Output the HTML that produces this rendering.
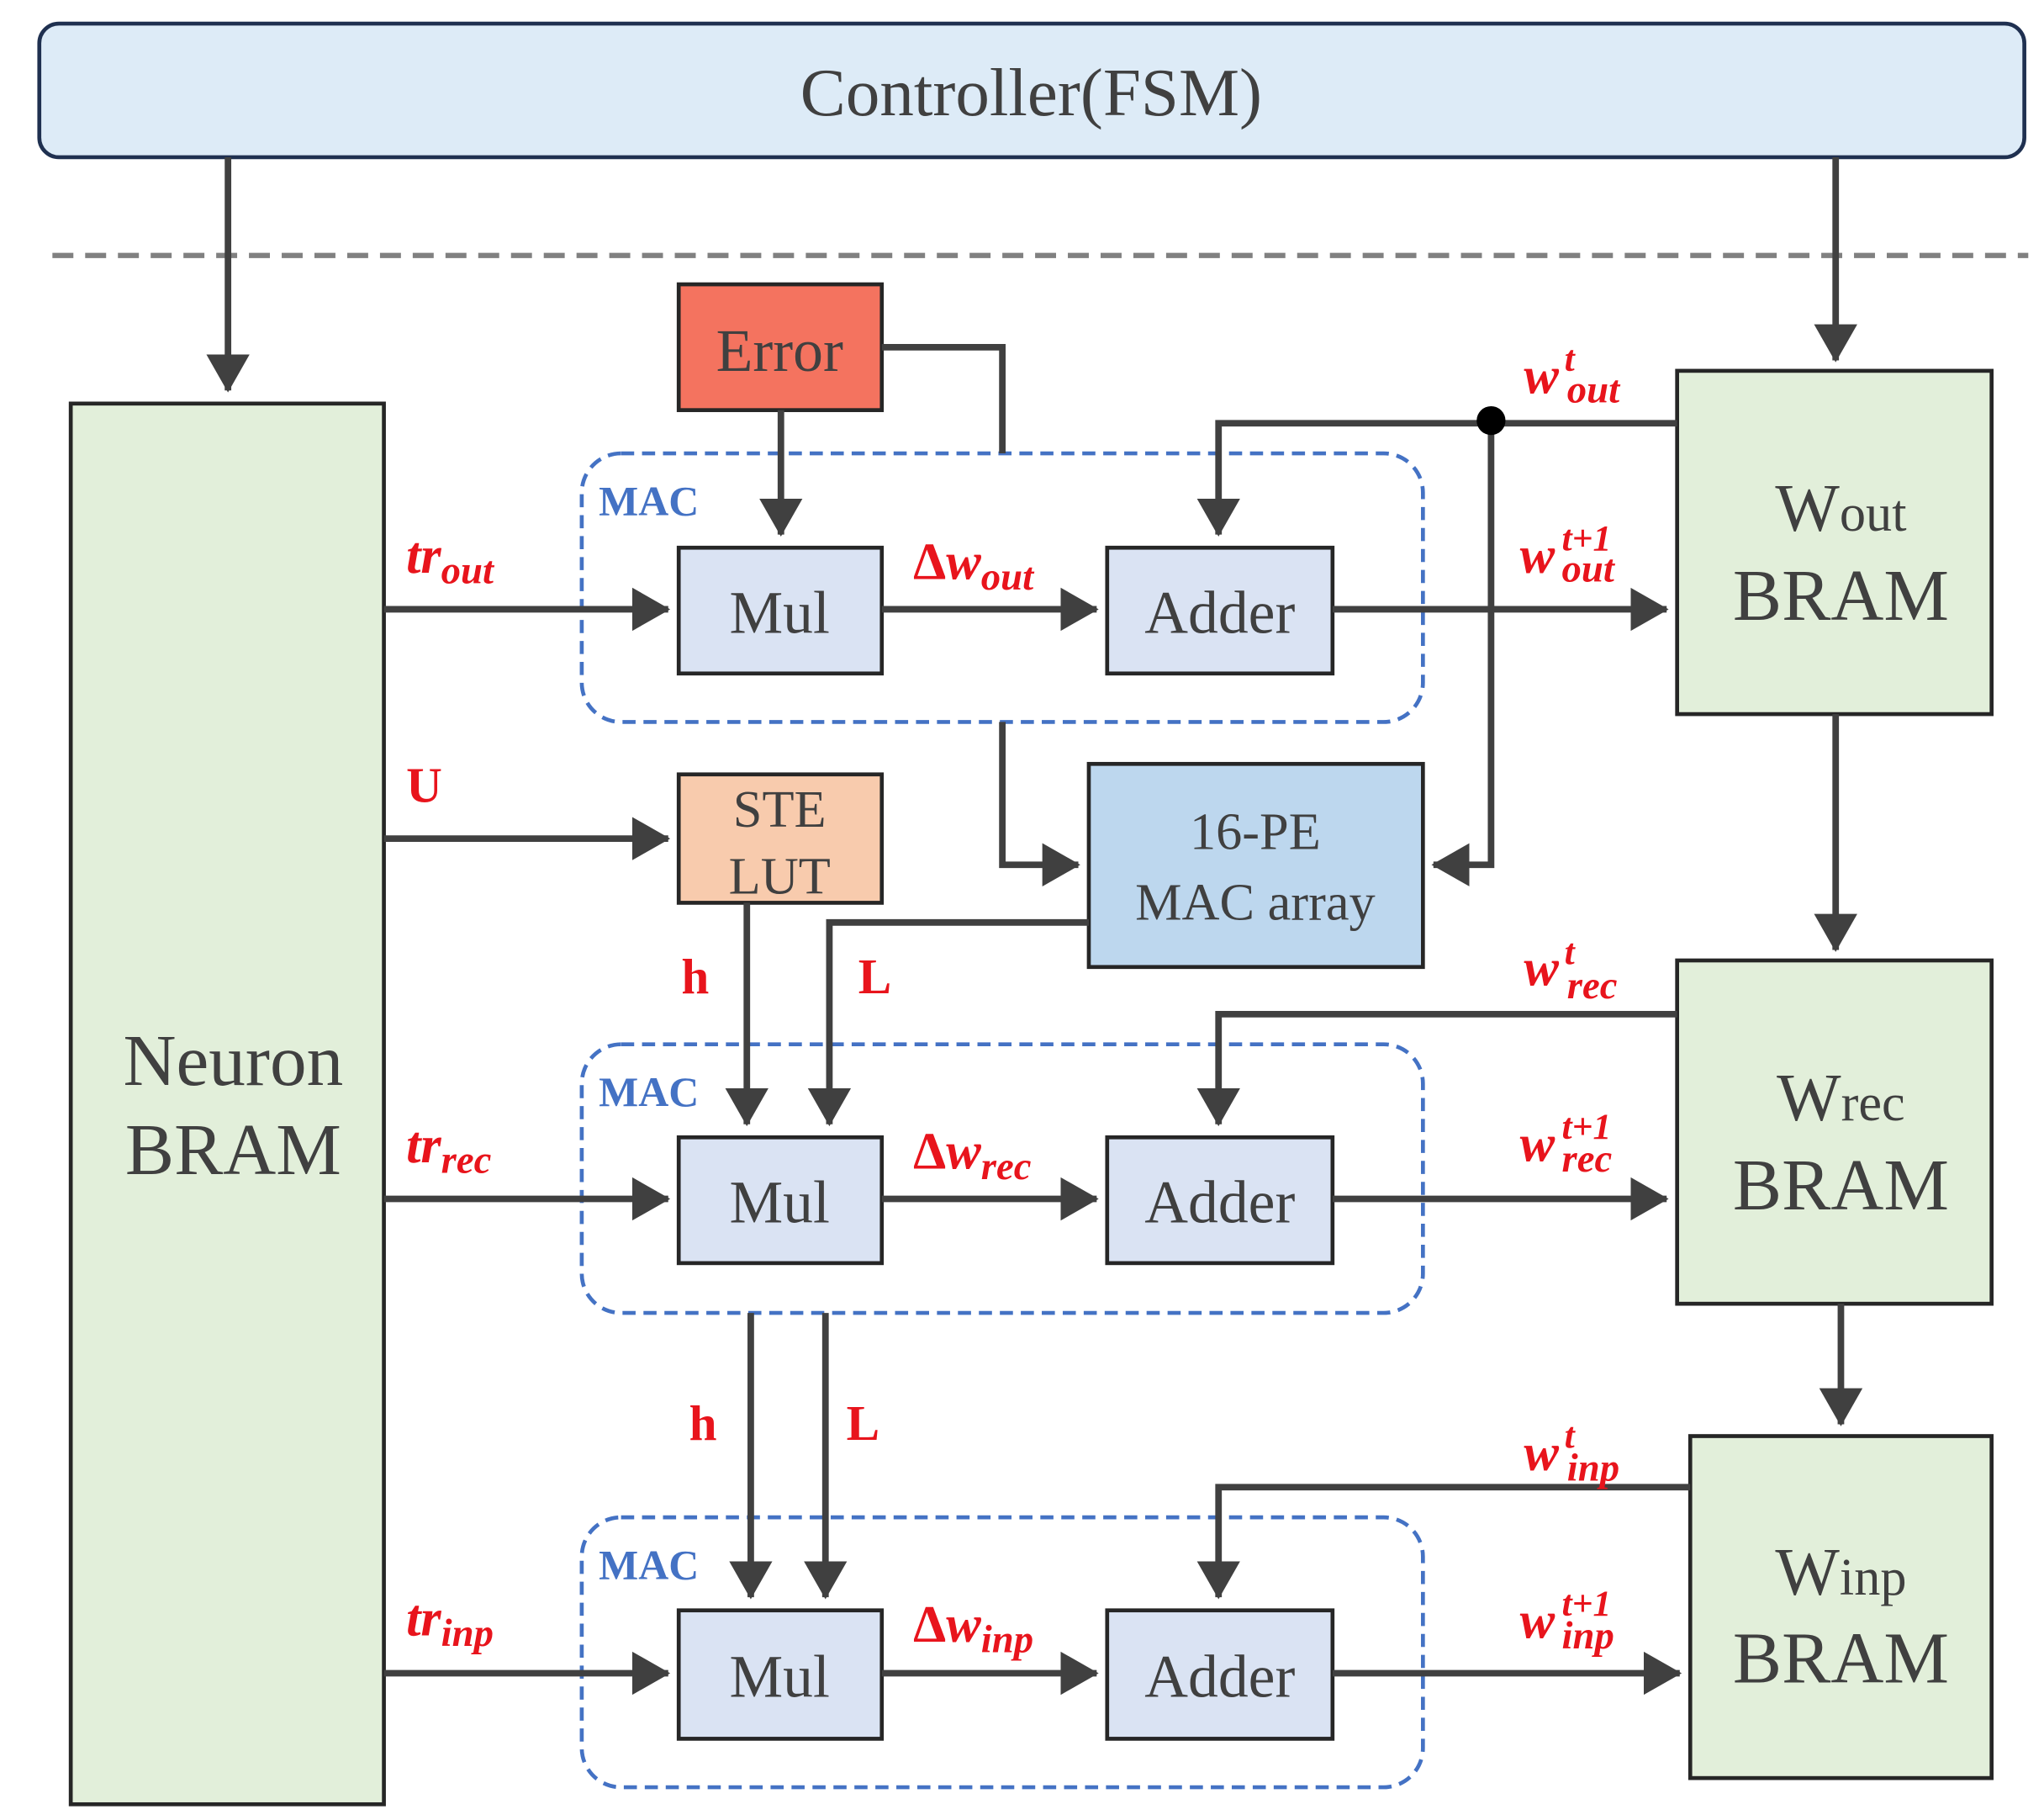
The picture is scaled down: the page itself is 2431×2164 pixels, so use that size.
<!DOCTYPE html>
<html><head><meta charset="utf-8"><style>html,body{margin:0;padding:0;background:#fff}svg{display:block}</style></head>
<body>
<svg width="2431" height="2164" viewBox="0 0 1560 1389" preserveAspectRatio="none" xmlns="http://www.w3.org/2000/svg">
<defs>
<marker id="a" markerWidth="7" markerHeight="7" refX="5.5" refY="3.5" orient="auto" markerUnits="strokeWidth"><path d="M0,0.2 L5.8,3.5 L0,6.8 z" fill="#404040"/></marker>
</defs>
<style>
.ln{stroke:#404040;stroke-width:5;fill:none}
.bx{stroke:#262626;stroke-width:3}
.t{font-family:"Liberation Serif",serif;fill:#404040;text-anchor:middle}
.r{font-family:"Liberation Serif",serif;fill:#e8141c;font-weight:bold;font-style:italic}
.rb{font-family:"Liberation Serif",serif;fill:#e8141c;font-weight:bold}
.mac{font-family:"Liberation Serif",serif;fill:#4472c4;font-weight:bold;font-size:32px}
.d{stroke:#4472c4;stroke-width:3;stroke-dasharray:10,6;fill:none}
</style>
<rect x="30" y="18" width="1515" height="102" rx="15" fill="#ddebf7" stroke="#1f3050" stroke-width="3"/>
<text x="787" y="88" class="t" font-size="52">Controller(FSM)</text>
<line x1="40" y1="195" x2="1548" y2="195" stroke="#808080" stroke-width="4" stroke-dasharray="16,9"/>
<line x1="174" y1="120" x2="174" y2="298" class="ln" marker-end="url(#a)"/>
<line x1="1401" y1="120" x2="1401" y2="275" class="ln" marker-end="url(#a)"/>

<rect x="54" y="308" width="239" height="1069" fill="#e2efda" class="bx"/>
<text x="178" y="828" class="t" font-size="56">Neuron</text>
<text x="178" y="896" class="t" font-size="56">BRAM</text>

<rect x="444" y="346" width="642" height="205" rx="30" class="d"/>
<rect x="444" y="797" width="642" height="205" rx="30" class="d"/>
<rect x="444" y="1158" width="642" height="206" rx="30" class="d"/>
<text x="457" y="393" class="mac">MAC</text>
<text x="457" y="844" class="mac">MAC</text>
<text x="457" y="1205" class="mac">MAC</text>

<rect x="518" y="217" width="155" height="96" fill="#f4735f" class="bx"/>
<text x="595" y="283" class="t" font-size="46">Error</text>
<polyline points="673,265 765,265 765,346" class="ln"/>
<line x1="596" y1="313" x2="596" y2="408" class="ln" marker-end="url(#a)"/>

<rect x="1280" y="283" width="240" height="262" fill="#e2efda" class="bx"/>
<text x="1405" y="405" class="t" font-size="52">W<tspan font-size="40">out</tspan></text>
<text x="1405" y="473" class="t" font-size="56">BRAM</text>
<rect x="1280" y="733" width="240" height="262" fill="#e2efda" class="bx"/>
<text x="1405" y="855" class="t" font-size="52">W<tspan font-size="40">rec</tspan></text>
<text x="1405" y="923" class="t" font-size="56">BRAM</text>
<rect x="1290" y="1096" width="230" height="261" fill="#e2efda" class="bx"/>
<text x="1405" y="1217" class="t" font-size="52">W<tspan font-size="40">inp</tspan></text>
<text x="1405" y="1284" class="t" font-size="56">BRAM</text>
<line x1="1401" y1="545" x2="1401" y2="725" class="ln" marker-end="url(#a)"/>
<line x1="1405" y1="995" x2="1405" y2="1087" class="ln" marker-end="url(#a)"/>

<rect x="518" y="418" width="155" height="96" fill="#dae3f3" class="bx"/>
<text x="595" y="483" class="t" font-size="46">Mul</text>
<rect x="845" y="418" width="172" height="96" fill="#dae3f3" class="bx"/>
<text x="931" y="483" class="t" font-size="46">Adder</text>
<line x1="293" y1="465" x2="510" y2="465" class="ln" marker-end="url(#a)"/>
<line x1="673" y1="465" x2="837" y2="465" class="ln" marker-end="url(#a)"/>
<line x1="1017" y1="465" x2="1272" y2="465" class="ln" marker-end="url(#a)"/>
<polyline points="1280,323 930,323 930,408" class="ln" marker-end="url(#a)"/>
<polyline points="1138,321 1138,660 1094,660" class="ln" marker-end="url(#a)"/>
<circle cx="1138" cy="321" r="11" fill="#000"/>

<rect x="831" y="583" width="255" height="155" fill="#bdd7ee" class="bx"/>
<text x="958" y="648" class="t" font-size="40">16-PE</text>
<text x="958" y="702" class="t" font-size="40">MAC array</text>
<polyline points="765,551 765,660 823,660" class="ln" marker-end="url(#a)"/>

<rect x="518" y="591" width="155" height="98" fill="#f8cbad" class="bx"/>
<text x="595" y="631" class="t" font-size="40">STE</text>
<text x="595" y="682" class="t" font-size="40">LUT</text>
<line x1="293" y1="640" x2="510" y2="640" class="ln" marker-end="url(#a)"/>
<line x1="570" y1="689" x2="570" y2="858" class="ln" marker-end="url(#a)"/>
<polyline points="831,704 633,704 633,858" class="ln" marker-end="url(#a)"/>

<rect x="518" y="868" width="155" height="96" fill="#dae3f3" class="bx"/>
<text x="595" y="933" class="t" font-size="46">Mul</text>
<rect x="845" y="868" width="172" height="96" fill="#dae3f3" class="bx"/>
<text x="931" y="933" class="t" font-size="46">Adder</text>
<line x1="293" y1="915" x2="510" y2="915" class="ln" marker-end="url(#a)"/>
<line x1="673" y1="915" x2="837" y2="915" class="ln" marker-end="url(#a)"/>
<line x1="1017" y1="915" x2="1272" y2="915" class="ln" marker-end="url(#a)"/>
<polyline points="1280,774 930,774 930,858" class="ln" marker-end="url(#a)"/>
<line x1="573" y1="1002" x2="573" y2="1219" class="ln" marker-end="url(#a)"/>
<line x1="630" y1="1002" x2="630" y2="1219" class="ln" marker-end="url(#a)"/>

<rect x="518" y="1229" width="155" height="98" fill="#dae3f3" class="bx"/>
<text x="595" y="1295" class="t" font-size="46">Mul</text>
<rect x="845" y="1229" width="172" height="98" fill="#dae3f3" class="bx"/>
<text x="931" y="1295" class="t" font-size="46">Adder</text>
<line x1="293" y1="1277" x2="510" y2="1277" class="ln" marker-end="url(#a)"/>
<line x1="673" y1="1277" x2="837" y2="1277" class="ln" marker-end="url(#a)"/>
<line x1="1017" y1="1277" x2="1282" y2="1277" class="ln" marker-end="url(#a)"/>
<polyline points="1290,1135 930,1135 930,1219" class="ln" marker-end="url(#a)"/>

<text x="310" y="437" class="r" font-size="40">tr<tspan font-size="30" dy="8">out</tspan></text>
<text x="310" y="887" class="r" font-size="40">tr<tspan font-size="30" dy="8">rec</tspan></text>
<text x="310" y="1248" class="r" font-size="40">tr<tspan font-size="30" dy="8">inp</tspan></text>
<text x="310" y="612" class="rb" font-size="38">U</text>
<text x="520" y="758" class="rb" font-size="38">h</text>
<text x="655" y="758" class="rb" font-size="38">L</text>
<text x="526" y="1099" class="rb" font-size="38">h</text>
<text x="646" y="1099" class="rb" font-size="38">L</text>
<text x="697" y="442" class="r" font-size="40"><tspan font-style="normal">Δ</tspan>w<tspan font-size="30" dy="8">out</tspan></text>
<text x="697" y="892" class="r" font-size="40"><tspan font-style="normal">Δ</tspan>w<tspan font-size="30" dy="8">rec</tspan></text>
<text x="697" y="1253" class="r" font-size="40"><tspan font-style="normal">Δ</tspan>w<tspan font-size="30" dy="8">inp</tspan></text>

<text x="1163" y="300" class="r" font-size="40">w</text><text x="1194" y="283" class="r" font-size="28">t</text><text x="1196" y="307" class="r" font-size="30">out</text>
<text x="1160" y="437" class="r" font-size="40">w</text><text x="1192" y="420" class="r" font-size="28">t+1</text><text x="1192" y="444" class="r" font-size="30">out</text>
<text x="1163" y="752" class="r" font-size="40">w</text><text x="1194" y="736" class="r" font-size="28">t</text><text x="1196" y="762" class="r" font-size="30">rec</text>
<text x="1160" y="886" class="r" font-size="40">w</text><text x="1192" y="869" class="r" font-size="28">t+1</text><text x="1192" y="894" class="r" font-size="30">rec</text>
<text x="1163" y="1122" class="r" font-size="40">w</text><text x="1194" y="1105" class="r" font-size="28">t</text><text x="1196" y="1130" class="r" font-size="30">inp</text>
<text x="1160" y="1250" class="r" font-size="40">w</text><text x="1192" y="1233" class="r" font-size="28">t+1</text><text x="1192" y="1258" class="r" font-size="30">inp</text>
</svg>
</body></html>
